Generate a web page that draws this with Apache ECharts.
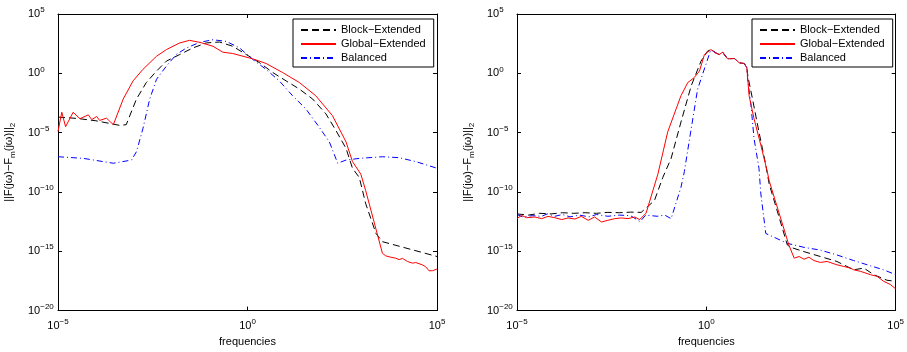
<!DOCTYPE html>
<html>
<head>
<meta charset="utf-8">
<script src="https://cdn.jsdelivr.net/npm/echarts@6/dist/echarts.min.js"></script>
<style>
  html, body { margin: 0; padding: 0; background: #fff; }
  #chart { width: 907px; height: 352px; }
</style>
</head>
<body>
<div id="chart"></div>
<script>
// axes are in decades: every point is [log10(frequency), log10(error)]
const seriesNames = ['Block\u2212Extended', 'Global\u2212Extended', 'Balanced']
const freqTicks = [-5, 0, 5]
const errTicks = [-20, -15, -10, -5, 0, 5]

const leftBlock = [
    [-5, -3.69], [-4.5, -3.8], [-4, -4.0], [-3.37, -4.39], [-3.2, -4.33], [-2.93, -2.17],
    [-2.67, -0.78], [-2.4, 0.19], [-2.14, 1.03], [-1.79, 1.58], [-1.44, 2.14], [-1.09, 2.56],
    [-0.74, 2.64], [-0.39, 2.28], [-0.03, 1.58], [0.32, 0.89], [0.67, 0.06], [1.02, -0.64],
    [1.37, -1.33], [1.72, -2.17], [2.07, -3.42], [2.33, -4.8], [2.6, -6.33], [2.77, -8],
    [2.95, -8.78], [3.12, -11], [3.39, -13.5], [3.56, -14.19], [5, -15.44],
]
const leftGlobal = [
    [-5, -4.9], [-4.9, -3.28], [-4.8, -4.5], [-4.6, -3.28], [-4.42, -3.83], [-4.2, -3.5],
    [-4.11, -3.9], [-3.98, -3.64], [-3.9, -3.97], [-3.72, -3.78], [-3.63, -4.06], [-3.54, -4.33],
    [-3.28, -2.17], [-3.02, -0.64], [-2.76, 0.33], [-2.4, 1.44], [-2.14, 2.0], [-1.79, 2.56],
    [-1.53, 2.78], [-1.26, 2.61], [-0.91, 2.28], [-0.65, 1.78], [-0.39, 1.67], [0.14, 1.22],
    [0.49, 0.83], [0.93, 0.06], [1.37, -0.78], [1.8, -1.89], [2.24, -3.56], [2.6, -5.78],
    [2.77, -7.44], [2.99, -8.5], [3.12, -9.9], [3.56, -15.17], [3.65, -15.39], [3.78, -15.5],
    [3.91, -15.58], [4.0, -15.7], [4.09, -15.6], [4.22, -15.86], [4.35, -16.0], [4.44, -15.95],
    [4.61, -16.14], [4.7, -16.3], [4.79, -16.64], [4.88, -16.64], [5, -16.5],
]
const leftBalanced = [
    [-5, -7.03], [-4.33, -7.17], [-3.54, -7.58], [-3.06, -7.31], [-2.93, -6.61], [-2.76, -4.67],
    [-2.58, -2.17], [-2.4, -0.5], [-2.14, 0.61], [-1.88, 1.58], [-1.61, 2.14], [-1.26, 2.61],
    [-0.91, 2.83], [-0.56, 2.69], [-0.21, 2.14], [0.14, 1.17], [0.49, 0.33], [0.84, -0.64],
    [1.19, -1.89], [1.54, -3.0], [1.89, -4.53], [2.16, -5.78], [2.38, -7.58], [2.6, -7.31],
    [2.95, -7.17], [3.56, -7.03], [4.0, -7.11], [4.44, -7.44], [5, -8.0],
]

const rightPeak = [
    [0.12, 2.0], [0.25, 1.72], [0.34, 1.58], [0.43, 1.78], [0.56, 1.22], [0.74, 1.25],
    [0.87, 0.89], [1.0, 0.83], [1.07, 0.47],
]
const rightBlock = [
    [-5, -11.85], [-4.7, -11.95], [-4.4, -11.8], [-4.1, -11.85], [-3.8, -11.75], [-3.5, -11.8],
    [-3.2, -11.75], [-2.9, -11.8], [-2.6, -11.72], [-2.3, -11.75], [-2.0, -11.7], [-1.72, -11.72],
    [-1.37, -10.72], [-1.15, -8.78], [-0.93, -7.17], [-0.67, -4.11], [-0.4, -1.06], [-0.14, 1.03],
    [0.03, 1.86], ...rightPeak, [1.1, -0.3], [1.22, -2.17], [1.39, -4.94], [1.57, -7.72],
    [1.66, -9.33], [2.14, -14.47], [2.23, -14.67], [2.58, -15.03], [3.01, -15.44], [3.45, -15.86],
    [3.89, -16.56], [4.16, -16.42], [4.42, -16.97], [4.77, -17.44], [5, -17.53],
]
const rightGlobal = [
    [-5, -12.25], [-4.88, -11.97], [-4.75, -12.17], [-4.53, -12.11], [-4.35, -12.25], [-4.18, -12.06],
    [-4.0, -12.17], [-3.82, -12.33], [-3.65, -12.19], [-3.47, -12.28], [-3.3, -12.06], [-3.12, -12.39],
    [-2.95, -12.11], [-2.77, -12.53], [-2.6, -12.39], [-2.42, -12.25], [-2.24, -12.19], [-2.07, -12.25],
    [-1.89, -12.11], [-1.76, -12.33], [-1.59, -11.78], [-1.28, -8.5], [-1.02, -4.94], [-0.67, -1.89],
    [-0.49, -0.78], [-0.32, -0.36], [-0.18, 0.2], [-0.05, 1.58], ...rightPeak,
    [1.13, -1.89], [1.26, -3.83], [1.44, -6.06], [1.61, -8.28], [1.66, -9.06], [2.18, -14.47],
    [2.32, -15.58], [2.45, -15.44], [2.58, -15.67], [2.71, -15.5], [2.84, -15.78], [3.01, -15.94],
    [3.19, -15.86], [3.45, -16.14], [3.63, -16.28], [3.81, -16.42], [3.89, -16.56], [4.07, -16.69],
    [4.33, -16.97], [4.51, -17.11], [4.68, -17.53], [4.86, -17.8], [5, -18.17],
]
const rightBalanced = [
    [-5, -11.9], [-4.85, -12.1], [-4.6, -12.0], [-4.35, -12.05], [-4.2, -11.85], [-4.0, -12.05],
    [-3.8, -11.9], [-3.6, -12.1], [-3.35, -11.95], [-3.1, -12.1], [-2.9, -11.9], [-2.6, -12.05],
    [-2.3, -11.95], [-2.0, -12.0], [-1.75, -12.5], [-1.6, -11.95], [-1.3, -12.05], [-1.1, -11.95],
    [-0.93, -12.25], [-0.67, -9.61], [-0.58, -8.28], [-0.4, -4.67], [-0.23, -1.33], ...rightPeak,
    [1.09, -0.5], [1.18, -2.72], [1.26, -5.5], [1.39, -8.0], [1.44, -10.17], [1.57, -13.5],
    [2.14, -14.33], [2.58, -14.67], [3.01, -14.9], [3.45, -15.31], [3.89, -15.78], [4.33, -16.22],
    [4.68, -16.56], [5, -16.97],
]

const FONT = '"Liberation Sans", Arial, sans-serif'

const powLabel = v => '{b|10}{e|' + String(Math.round(v)).replace('-', '\u2212') + '}'
const powRich = {
    b: { fontSize: 11, lineHeight: 16, fontFamily: FONT, color: '#000' },
    e: { fontSize: 8, lineHeight: 8, verticalAlign: 'top', fontFamily: FONT, color: '#000' },
}

const lineStyles = [
    { color: '#000', type: [7, 4], width: 1 },
    { color: '#ff0000', type: 'solid', width: 1 },
    { color: '#0000ff', type: [6, 3, 1, 3], width: 1 },
]

const axisBase = {
    type: 'value',
    axisLine: { onZero: false, lineStyle: { color: '#000', width: 1 } },
    axisTick: { inside: true, length: 4, lineStyle: { color: '#000' } },
    splitLine: { show: false },
}

function xAxes(grid) {
    const base = {
        ...axisBase, gridIndex: grid,
        min: freqTicks[0], max: freqTicks[freqTicks.length - 1], interval: freqTicks[1] - freqTicks[0],
    }
    return [
        {
            ...base, position: 'bottom',
            axisLabel: { formatter: powLabel, rich: powRich, margin: 7, verticalAlign: 'top' },
            name: 'frequencies', nameLocation: 'middle', nameGap: 22,
            nameTextStyle: { fontSize: 11, fontFamily: FONT, color: '#000' },
        },
        { ...base, position: 'top', axisLabel: { show: false } },
    ]
}

function yAxes(grid) {
    const base = {
        ...axisBase, gridIndex: grid,
        min: errTicks[0], max: errTicks[errTicks.length - 1], interval: errTicks[1] - errTicks[0],
    }
    return [
        {
            ...base, position: 'left',
            axisLabel: { formatter: powLabel, rich: powRich, margin: 30, align: 'left' },
            name: '||F(j\u03c9)\u2212F{s|m}(j\u03c9)||{s|2}', nameLocation: 'middle', nameGap: 41, nameRotate: 90,
            nameTextStyle: {
                fontSize: 11, fontFamily: FONT, color: '#000', lineHeight: 16,
                rich: { s: { fontSize: 8, lineHeight: 8, verticalAlign: 'bottom', fontFamily: FONT, color: '#000' } },
            },
        },
        { ...base, position: 'right', axisLabel: { show: false } },
    ]
}

function legend(left) {
    return {
        orient: 'vertical', left: left, top: 19,
        data: seriesNames,
        padding: [4, 8, 2, 7],
        itemWidth: 35, itemHeight: 14, itemGap: 0,
        itemStyle: { opacity: 0 },
        borderColor: '#000', borderWidth: 1, backgroundColor: '#fff',
        textStyle: { fontSize: 11, lineHeight: 14, fontFamily: FONT, color: '#000' },
    }
}

function plotSeries(data, i, axis) {
    return {
        name: seriesNames[i], type: 'line', xAxisIndex: axis, yAxisIndex: axis,
        data: data, symbol: 'none', showSymbol: false, animation: false,
        lineStyle: lineStyles[i], itemStyle: { color: lineStyles[i].color },
        clip: true, z: i === 1 ? 3 : 2,
    }
}

const chart = echarts.init(document.getElementById('chart'), null, { renderer: 'canvas' })
chart.setOption({
    animation: false,
    textStyle: { fontFamily: FONT },
    grid: [
        { left: 58, top: 14, width: 379, height: 299 },
        { left: 517, top: 14, width: 380, height: 299 },
    ],
    legend: [legend(293), legend(752)],
    xAxis: [...xAxes(0), ...xAxes(1)],
    yAxis: [...yAxes(0), ...yAxes(1)],
    series: [
        plotSeries(leftBlock, 0, 0),
        plotSeries(leftGlobal, 1, 0),
        plotSeries(leftBalanced, 2, 0),
        plotSeries(rightBlock, 0, 2),
        plotSeries(rightGlobal, 1, 2),
        plotSeries(rightBalanced, 2, 2),
    ],
})
</script>
</body>
</html>
